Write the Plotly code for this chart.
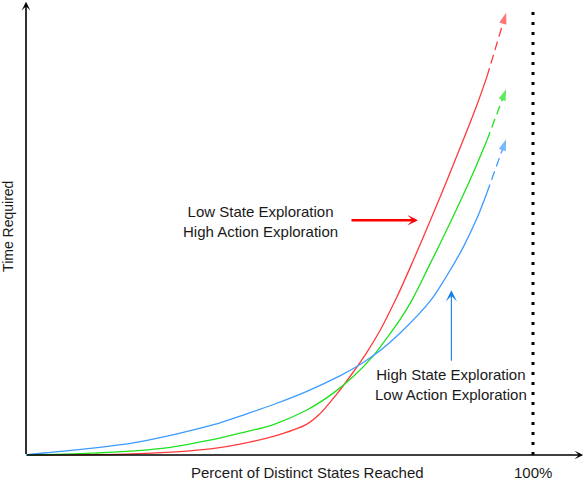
import plotly.graph_objects as go

# x: percent of distinct states reached, y: time required (relative units)
red_x = [0, 19.7, 29.6, 36.8, 42.2, 48.8, 55.4, 58.0, 61.3, 64.6, 67.2, 69.8, 73.1, 76.4, 80.3, 83.0, 86.3, 88.9, 90.9]
red_y = [0, 0.2, 0.7, 1.4, 2.4, 4.1, 6.8, 9.1, 13.4, 18.3, 22.5, 27.3, 34.6, 42.8, 53.0, 60.3, 69.4, 76.8, 83.1]
green_x = [0, 13.2, 26.3, 36.8, 42.2, 48.8, 55.4, 60.6, 64.6, 68.5, 71.1, 73.8, 76.1, 79.7, 83.0, 86.3, 88.9, 90.9]
green_y = [0, 0.4, 1.4, 3.4, 4.8, 6.7, 9.9, 13.6, 17.3, 21.8, 25.6, 29.8, 34.0, 42.0, 49.5, 57.3, 63.8, 69.1]
blue_x = [0, 3.9, 13.2, 21.7, 29.6, 36.8, 43.4, 48.8, 55.4, 61.9, 65.9, 69.8, 73.8, 79.7, 83.0, 86.3, 88.9, 90.9]
blue_y = [0, 0.5, 1.5, 2.8, 4.6, 6.6, 9.0, 11.1, 14.0, 17.4, 19.9, 22.9, 26.8, 33.8, 39.4, 45.8, 51.9, 57.6]

# dashed extrapolation tips
tip_x = [94.7, 94.7, 94.7]
tip_y = [97.2, 80.4, 69.4]

series_names = ["Low State / High Action", "Medium", "High State / Low Action"]
colors = ["#FF3B3B", "#1EE01E", "#3D9BFF"]

full_x = 100
x_title = "Percent of Distinct States Reached"
y_title = "Time Required"
label_top = "Low State Exploration<br>High Action Exploration"
label_bottom = "High State Exploration<br>Low Action Exploration"

fig = go.Figure()

curves = zip(series_names, [red_x, green_x, blue_x], [red_y, green_y, blue_y], colors, tip_x, tip_y)
for name, xs, ys, col, tx, ty in curves:
    fig.add_trace(go.Scatter(
        x=xs, y=ys, mode="lines", name=name,
        line=dict(color=col, width=1.3, shape="spline", smoothing=1.0),
        hoverinfo="skip"
    ))
    # dashed part ending in an arrow head
    fig.add_trace(go.Scatter(
        x=[xs[-1], tx], y=[ys[-1], ty], mode="lines+markers",
        line=dict(color=col, width=1.3, dash="9px,5px"),
        marker=dict(symbol="arrow", angleref="previous", size=[0, 12], color=col,
                    line=dict(width=0)),
        hoverinfo="skip"
    ))

# axes drawn as arrows
fig.add_annotation(x=0, y=99.6, ax=0, ay=-0.1, xref="x", yref="y", axref="x", ayref="y",
                   text="", showarrow=True, arrowhead=3, arrowsize=0.9, arrowwidth=1.6,
                   arrowcolor="black", standoff=0)
fig.add_annotation(x=109.9, y=0, ax=-0.1, ay=0, xref="x", yref="y", axref="x", ayref="y",
                   text="", showarrow=True, arrowhead=3, arrowsize=0.9, arrowwidth=1.6,
                   arrowcolor="black", standoff=0)

# 100% limit
fig.add_shape(type="line", x0=full_x, x1=full_x, y0=0, y1=98.9, xref="x", yref="y",
              line=dict(color="black", width=3, dash="3px,7px"))

font = dict(family="Liberation Sans, Arial, sans-serif", size=15, color="#1a1a1a")

# callout labels
fig.add_annotation(x=46.2, y=51.4, xref="x", yref="y", text=label_top, showarrow=False,
                   font=font, align="center")
fig.add_annotation(x=77.3, y=51.6, ax=63.9, ay=51.6, xref="x", yref="y", axref="x", ayref="y",
                   text="", showarrow=True, arrowhead=3, arrowsize=0.7, arrowwidth=2.5,
                   arrowcolor="#FF0000", standoff=0)
fig.add_annotation(x=83.8, y=15.4, xref="x", yref="y", text=label_bottom, showarrow=False,
                   font=font, align="center")
fig.add_annotation(x=83.9, y=36.2, ax=83.9, ay=20.4, xref="x", yref="y", axref="x", ayref="y",
                   text="", showarrow=True, arrowhead=3, arrowsize=1.7, arrowwidth=1.1,
                   arrowcolor="#1A7FE8", standoff=0)

# axis titles and 100% tick
fig.add_annotation(x=55.6, y=-3.9, xref="x", yref="y", text=x_title, showarrow=False, font=font)
fig.add_annotation(x=full_x, y=-3.9, xref="x", yref="y", text="100%", showarrow=False, font=font)
fig.add_annotation(x=-3.6, y=50.3, xref="x", yref="y", text=y_title, showarrow=False,
                   font=dict(family="Liberation Sans, Arial, sans-serif", size=14, color="#1a1a1a"),
                   textangle=-90)

fig.update_layout(
    width=584, height=480,
    margin=dict(l=0, r=0, t=0, b=0),
    showlegend=False,
    plot_bgcolor="white", paper_bgcolor="white",
    xaxis=dict(range=[-5.13, 110.06], visible=False, fixedrange=True),
    yaxis=dict(range=[-5.49, 100], visible=False, fixedrange=True),
)

# drop the default 8px page margin so the figure sits at the window corner
fig.write_html("out.html", config={"displayModeBar": False},
               post_script="document.body.style.margin='0px';")
